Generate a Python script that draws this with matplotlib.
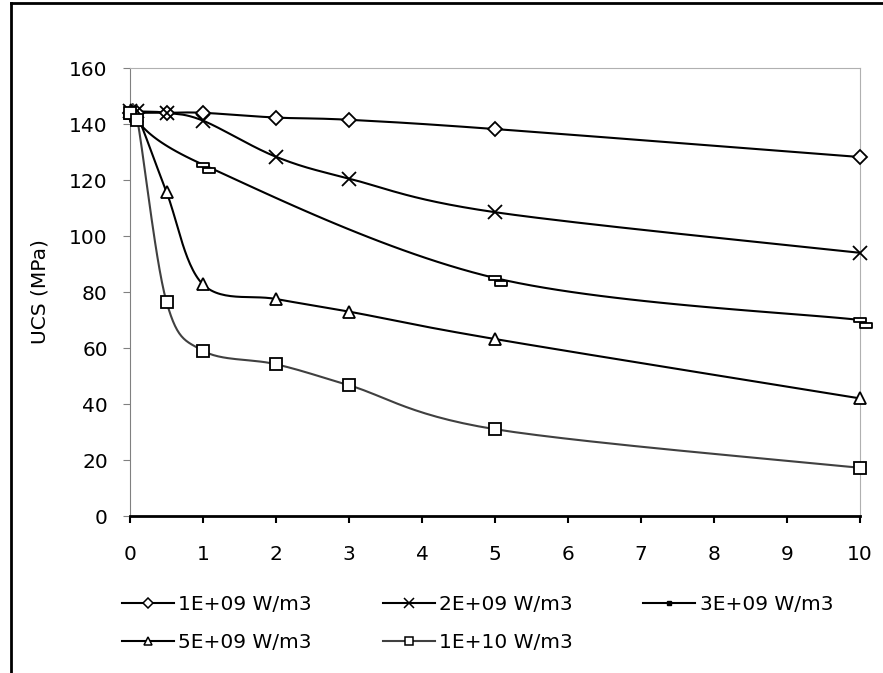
import matplotlib.pyplot as plt
import numpy as np
from matplotlib.path import Path
from matplotlib.lines import Line2D

# data
x_common = [0, 0.1, 0.5, 1, 2, 3, 5, 10]
ucs_1e9 = [144, 144, 144, 144, 142.3, 141.5, 138.2, 128.2]
ucs_2e9 = [144.5, 144.5, 144, 141.2, 128.3, 120.5, 108.5, 94]
x_3e9 = [0, 1, 5, 10]
ucs_3e9 = [143.5, 125.5, 85, 70]
ucs_5e9 = [144, 143, 115.7, 82.7, 77.5, 73, 63.2, 42]
ucs_1e10 = [144, 141.5, 76.5, 59, 54.2, 46.7, 31, 17.2]

labels = ['1E+09 W/m3', '2E+09 W/m3', '3E+09 W/m3', '5E+09 W/m3', '1E+10 W/m3']
xticks = list(range(0, 11))
yticks = list(range(0, 161, 20))

fs = 14.5


def smooth(x, y, n=30):
    # excel-like smoothed line (bezier through points)
    x = np.asarray(x, float)
    y = np.asarray(y, float)
    p = np.column_stack([x, y])
    out = [p[0]]
    t = np.linspace(0, 1, n)[1:]
    for i in range(len(p) - 1):
        p0 = p[i - 1] if i > 0 else p[i]
        p3 = p[i + 2] if i + 2 < len(p) else p[i + 1]
        c1 = p[i] + (p[i + 1] - p0) / 6
        c2 = p[i + 1] - (p3 - p[i]) / 6
        for tt in t:
            pt = ((1 - tt) ** 3) * p[i] + 3 * ((1 - tt) ** 2) * tt * c1 + 3 * (1 - tt) * tt ** 2 * c2 + tt ** 3 * p[i + 1]
            out.append(pt)
    out = np.array(out)
    return out[:, 0], out[:, 1]


# double dash marker like excel draws it
dash_marker = Path(
    [(-6, 2.5), (6, 2.5), (6, -2.5), (-6, -2.5), (-6, 2.5),
     (0, -3.5), (12, -3.5), (12, -8.5), (0, -8.5), (0, -3.5)],
    [Path.MOVETO, Path.LINETO, Path.LINETO, Path.LINETO, Path.CLOSEPOLY] * 2)

fig = plt.figure(figsize=(8.83, 6.73), dpi=100)
ax = fig.add_axes([130 / 883, 1 - 516 / 673, 730 / 883, 448 / 673])

lw = 1.5
series = [
    (x_common, ucs_1e9, 'black', 'D', 7),
    (x_common, ucs_2e9, 'black', 'x', 10),
    (x_3e9, ucs_3e9, 'black', None, 0),
    (x_common, ucs_5e9, 'black', '^', 8),
    (x_common, ucs_1e10, '#404040', 's', 8),
]

handles = []
for (xs, ys, col, mk, ms), lab in zip(series, labels):
    sx, sy = smooth(xs, ys)
    ax.plot(sx, sy, color=col, lw=lw, zorder=2, clip_on=False)
    if mk is None:
        ax.plot(xs, ys, ls='none', marker=dash_marker, ms=17, mfc='white',
                mec='black', mew=1.3, zorder=3, clip_on=False)
        handles.append(Line2D([], [], color=col, lw=lw, marker='s', ms=3,
                              mfc='black', mec='black'))
    else:
        ax.plot(xs, ys, ls='none', marker=mk, ms=ms, mfc='white',
                mec='black', mew=1.3, zorder=3, clip_on=False)
        handles.append(Line2D([], [], color=col, lw=lw, marker=mk, ms=ms * 0.7,
                              mfc='white', mec='black', mew=1.1))

ax.set_xlim(0, 10)
ax.set_ylim(0, 160)
ax.set_xticks(xticks)
ax.set_yticks(yticks)
ax.tick_params(axis='both', labelsize=fs, direction='out', length=5)
ax.tick_params(axis='y', color='#808080', pad=11)
ax.tick_params(axis='x', color='black', width=1.5, pad=16)
ax.set_ylabel('UCS (MPa)', fontsize=fs)
ax.yaxis.set_label_coords(-0.11, 0.5)

ax.spines['left'].set_color('#808080')
ax.spines['top'].set_color('#b0b0b0')
ax.spines['right'].set_color('#b0b0b0')
ax.spines['bottom'].set_color('black')
ax.spines['bottom'].set_linewidth(2)

order = [0, 3, 1, 4, 2]
fig.legend([handles[i] for i in order], [labels[i] for i in order],
           ncol=3, loc='upper left', bbox_to_anchor=(122 / 883, 1 - 595 / 673),
           frameon=False, fontsize=fs, handlelength=2.6, handletextpad=0.2,
           columnspacing=3.5, labelspacing=0.95, borderpad=0, borderaxespad=0)

# outer chart frame (left and top edges)
fig.add_artist(Line2D([11 / 883, 11 / 883], [0, 1 - 3 / 673], color='black', lw=2,
                      transform=fig.transFigure))
fig.add_artist(Line2D([11 / 883, 1], [1 - 3 / 673, 1 - 3 / 673], color='black', lw=2,
                      transform=fig.transFigure))

fig.savefig('out.png', dpi=100)
